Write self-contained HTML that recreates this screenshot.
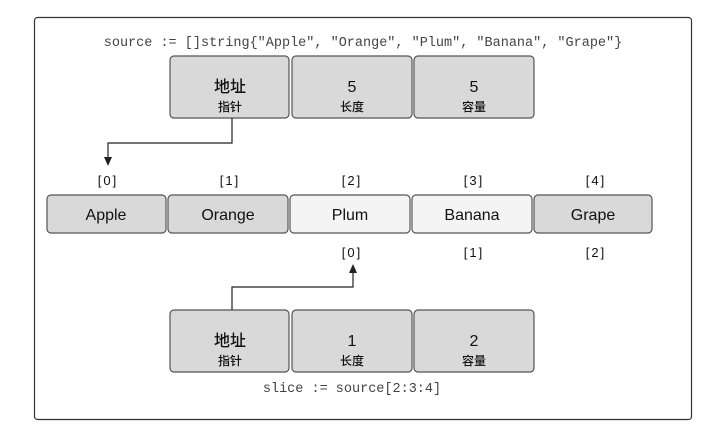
<!DOCTYPE html>
<html><head><meta charset="utf-8"><style>
body{margin:0;background:#fff;width:708px;height:438px;overflow:hidden}
svg text{font-family:"Liberation Sans","Noto Sans CJK SC",sans-serif}
</style></head><body>
<svg width="708" height="438" viewBox="0 0 708 438" xmlns="http://www.w3.org/2000/svg">
<rect x="34.5" y="17.5" width="657" height="402" rx="3" fill="#fff" stroke="#333" stroke-width="1.2"/>
<text x="363" y="46" font-size="13.5" text-anchor="middle" fill="#444" style="font-family:'Liberation Mono',monospace">source := []string{"Apple", "Orange", "Plum", "Banana", "Grape"}</text>
<g stroke="#555" stroke-width="1.2" fill="#d9d9d9">
<rect x="170" y="56" width="119" height="62" rx="4"/>
<rect x="292" y="56" width="120" height="62" rx="4"/>
<rect x="414" y="56" width="120" height="62" rx="4"/>
<rect x="47" y="195" width="119" height="38" rx="4"/>
<rect x="168" y="195" width="120" height="38" rx="4"/>
<rect x="290" y="195" width="120" height="38" rx="4" fill="#f4f4f4"/>
<rect x="412" y="195" width="120" height="38" rx="4" fill="#f4f4f4"/>
<rect x="534" y="195" width="118" height="38" rx="4"/>
<rect x="170" y="310" width="119" height="62" rx="4"/>
<rect x="292" y="310" width="120" height="62" rx="4"/>
<rect x="414" y="310" width="120" height="62" rx="4"/>
</g>
<g text-anchor="middle" fill="#111">
<g font-weight="500">
<text x="230" y="92" font-size="16">地址</text><text x="230" y="111" font-size="12">指针</text>
<text x="352" y="92" font-size="16">5</text><text x="352" y="111" font-size="12">长度</text>
<text x="474" y="92" font-size="16">5</text><text x="474" y="111" font-size="12">容量</text>
<text x="230" y="346" font-size="16">地址</text><text x="230" y="365" font-size="12">指针</text>
<text x="352" y="346" font-size="16">1</text><text x="352" y="365" font-size="12">长度</text>
<text x="474" y="346" font-size="16">2</text><text x="474" y="365" font-size="12">容量</text>
</g>
<g font-size="16"><text x="106" y="220">Apple</text><text x="228" y="220">Orange</text><text x="350" y="220">Plum</text><text x="472" y="220">Banana</text><text x="593" y="220">Grape</text></g>
<g font-size="13" style="letter-spacing:2px"><text x="108" y="185">[0]</text><text x="230" y="185">[1]</text><text x="352" y="185">[2]</text><text x="474" y="185">[3]</text><text x="596" y="185">[4]</text>
<text x="352" y="257">[0]</text><text x="474" y="257">[1]</text><text x="596" y="257">[2]</text></g>
<text x="352" y="392" font-size="13.5" fill="#444" style="font-family:'Liberation Mono',monospace">slice := source[2:3:4]</text>
<text x="380" y="455" font-size="16" font-weight="bold">操作之后的切片结构</text>
</g>
<g stroke="#222" stroke-width="1.2" fill="none">
<polyline points="232,118 232,143 108,143 108,158"/>
<polyline points="232,310 232,287 353,287 353,272"/>
</g>
<path d="M104,157 L112,157 L108,166 z" fill="#222"/>
<path d="M349,273 L357,273 L353,264 z" fill="#222"/>
</svg>
</body></html>
